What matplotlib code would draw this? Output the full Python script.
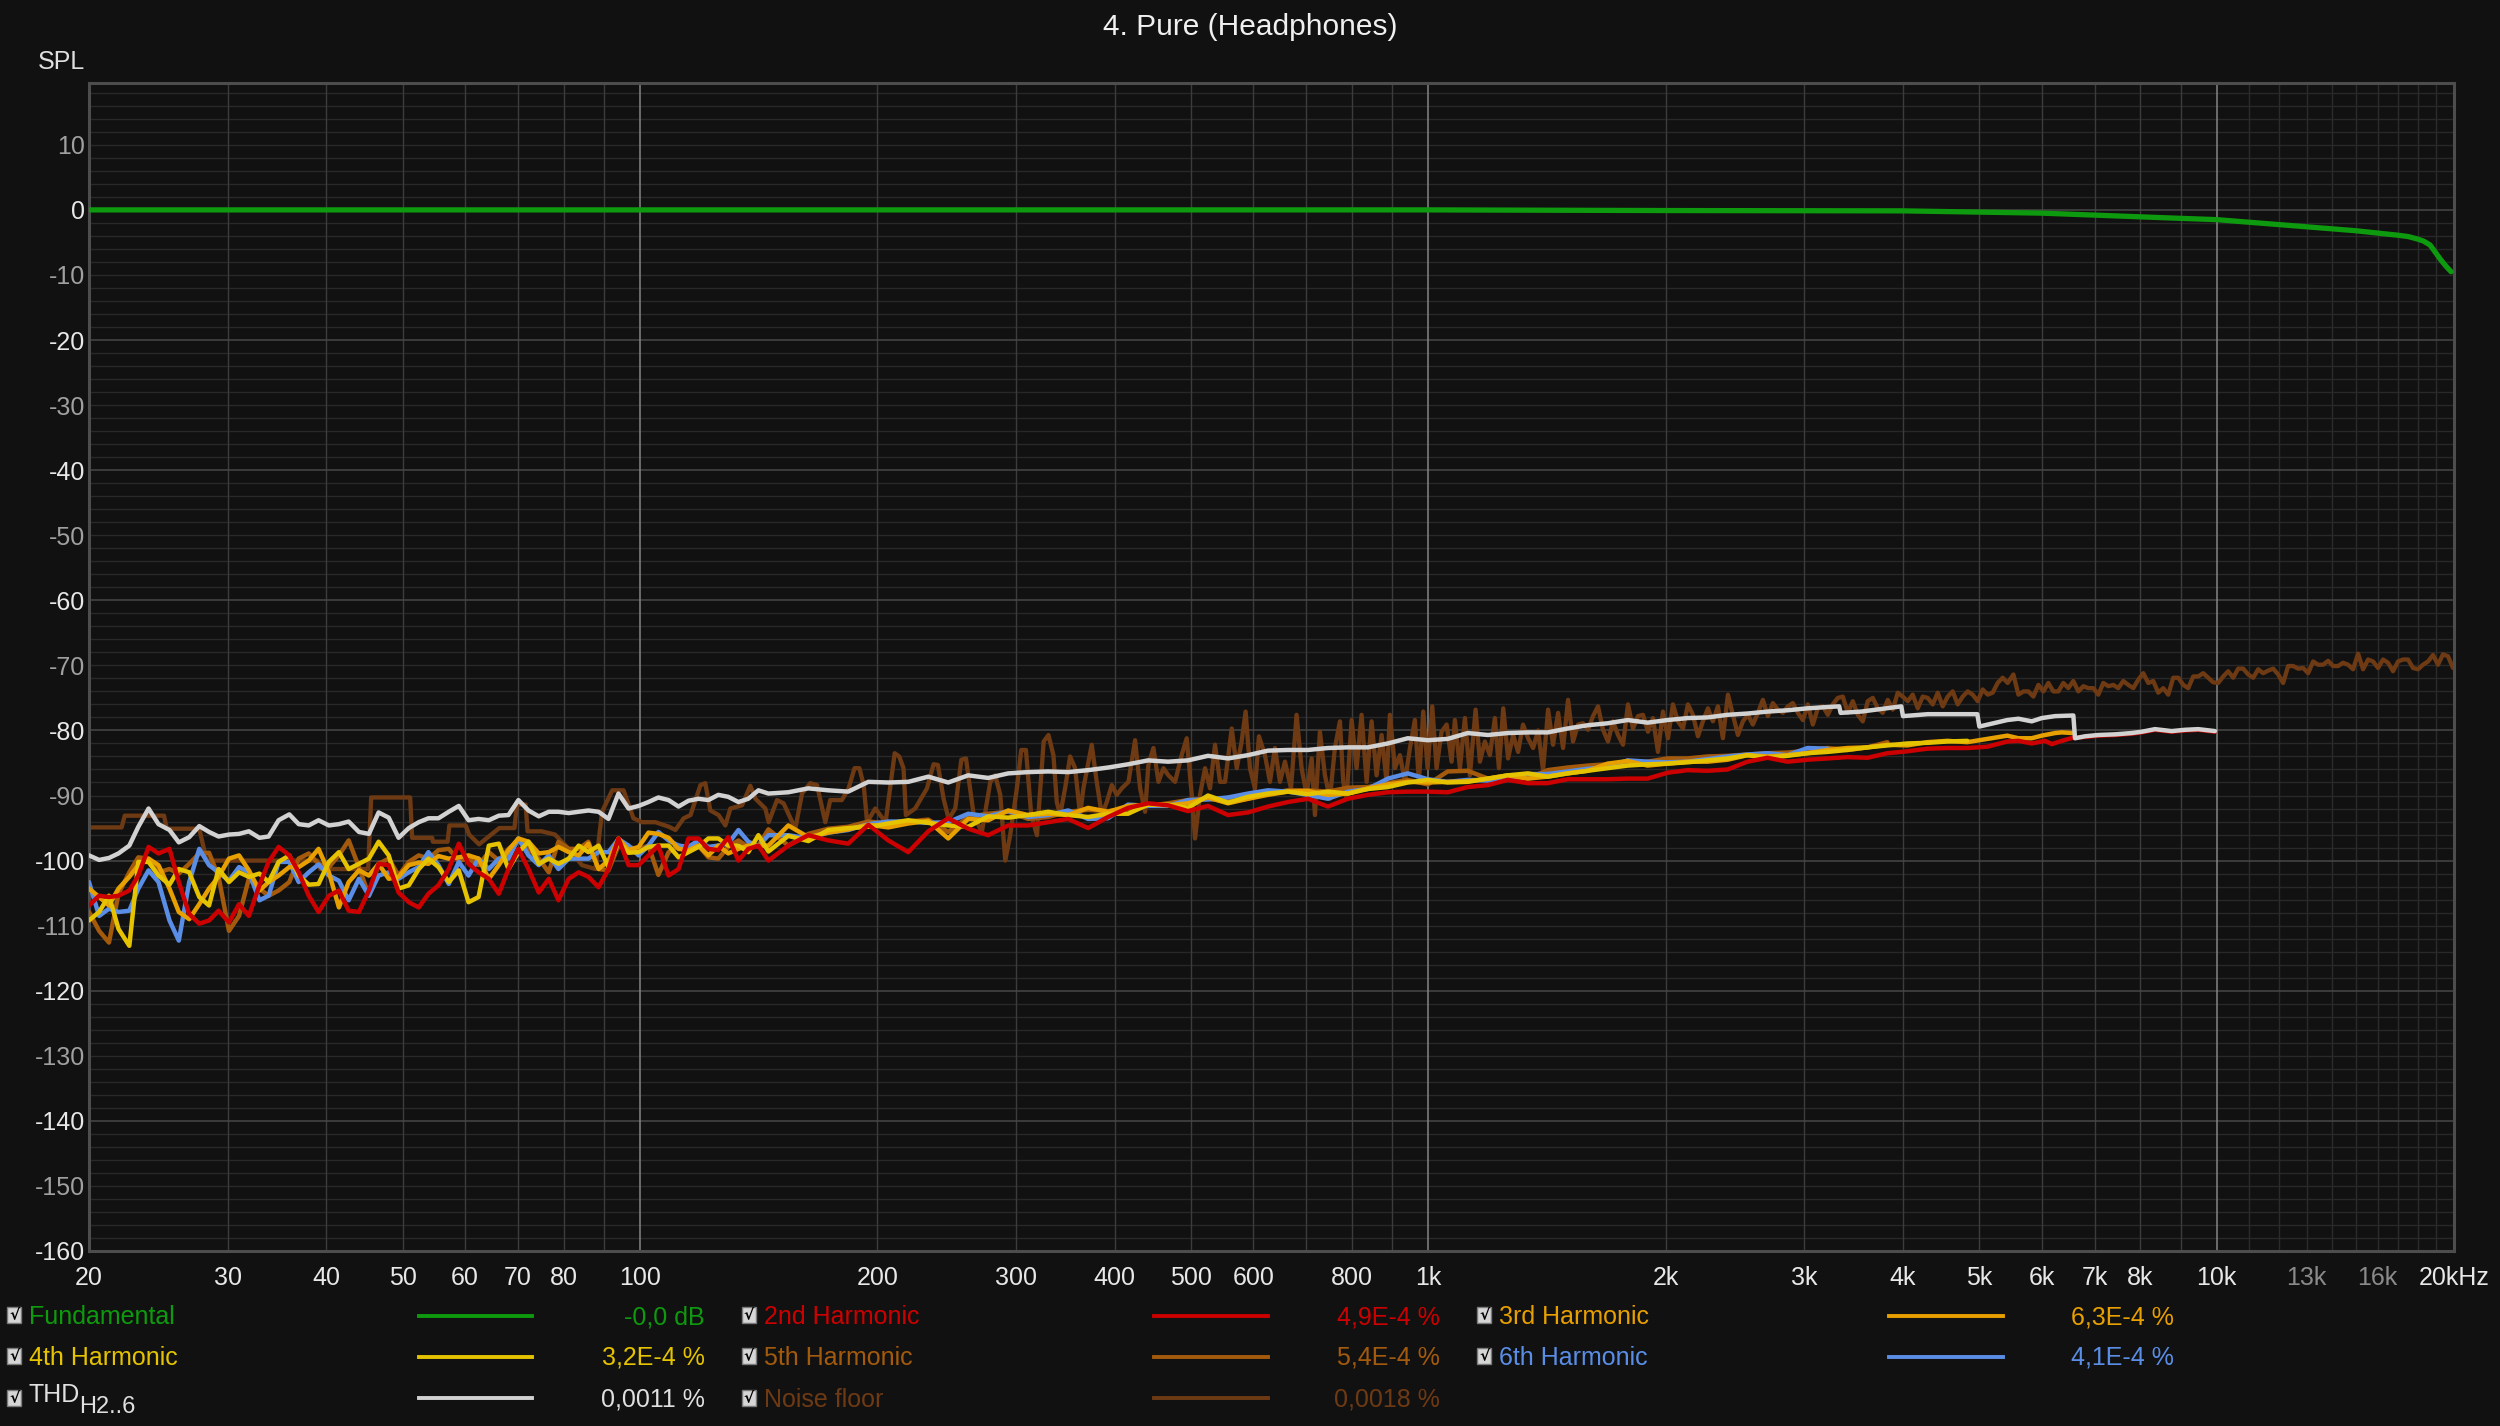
import matplotlib.pyplot as plt
from matplotlib.patches import Rectangle
from matplotlib.lines import Line2D
from matplotlib.ticker import NullLocator

plt.rcParams['font.family'] = ['Liberation Sans', 'DejaVu Sans']

W, H = 2500, 1426
BG = '#111111'

# colours of the traces
C_FUND = '#0e9a0e'
C_H2 = '#cc0000'
C_H3 = '#e8a000'
C_H4 = '#e5c300'
C_H5 = '#a35a0c'
C_H6 = '#5a8ee6'
C_THD = '#d2d2d2'
C_NOISE = '#6e3a14'

# ---- frequency grids (Hz) ----
f_a = [20.0, 20.6, 21.2, 21.8, 22.5, 23.1, 23.8, 24.5, 25.3, 26.0, 26.8, 27.6, 28.4, 29.2, 30.1,
       31.0, 31.9, 32.9, 33.8, 34.8, 35.9, 36.9, 38.0, 39.1, 40.3, 41.5, 42.7, 44.0, 45.3, 46.6,
       48.0, 49.4, 50.9, 52.4, 53.9, 55.5, 57.2, 58.9, 60.6, 62.4, 64.3, 66.2, 68.1, 70.1, 72.2,
       74.4, 76.6, 78.8, 81.2]
f_b = [83.6, 86.0, 88.6, 91.2, 93.9, 96.7, 99.6, 102.5, 105.5, 108.7, 111.9, 115.2, 118.6, 122.1,
       125.7, 129.4, 133.3, 137.2, 141.3, 145.5, 154.2, 163.5, 173.3, 183.7, 194.8, 206.5, 218.9,
       232.1, 246.0, 260.8, 276.5, 293.1, 310.7, 329.4]
f_c = [349.2, 370.2, 392.4, 416.0, 441.0, 467.5, 495.6, 525.4, 557.0, 590.5, 625.9, 663.6, 703.4,
       745.7, 790.6, 838.1, 888.4, 941.8, 998.4, 1058, 1122, 1190, 1261, 1337]
f_d = [1417, 1502, 1593, 1688, 1790, 1897, 2011, 2132, 2260, 2396, 2540, 2693, 2855, 3027, 3208,
       3401, 3606, 3822, 4052, 4296, 4554, 4827, 5117, 5425]

# ---- fundamental (dB) ----
fund_f = [20, 100, 1000, 2000, 4000, 6000, 9000, 10000, 13000, 15000, 17000, 17500, 18000, 18300,
          18650, 19250, 19550, 19830]
fund_db = [0.0, 0.0, 0.0, -0.1, -0.15, -0.5, -1.3, -1.5, -2.6, -3.2, -3.9, -4.1, -4.5, -4.8,
           -5.4, -7.7, -8.7, -9.5]

# ---- THD H2..6 ----
thd_a = [-99.2, -99.9, -99.6, -98.9, -97.7, -94.8, -92.0, -94.4, -95.3, -97.2, -96.4, -94.7, -95.6,
         -96.3, -96.0, -95.9, -95.5, -96.5, -96.3, -93.8, -92.9, -94.4, -94.6, -93.8, -94.6, -94.4,
         -94.0, -95.6, -95.9, -92.6, -93.4, -96.5, -95.0, -94.1, -93.5, -93.5, -92.5, -91.6, -93.8,
         -93.6, -93.8, -93.1, -93.0, -90.7, -92.3, -93.2, -92.5, -92.5, -92.7]
thd_b = [-92.5, -92.3, -92.5, -93.6, -89.7, -92.0, -91.6, -91.0, -90.3, -90.7, -91.7, -90.8, -90.5,
         -90.7, -89.9, -90.2, -91.0, -90.5, -89.2, -89.7, -89.5, -88.9, -89.2, -89.4, -87.9, -88.0,
         -87.9, -87.1, -88.0, -86.9, -87.3, -86.6, -86.4, -86.3]
thd_c = [-86.4, -86.1, -85.7, -85.2, -84.6, -84.8, -84.6, -83.9, -84.3, -83.8, -83.1, -83.0, -83.0,
         -82.7, -82.6, -82.6, -82.0, -81.2, -81.5, -81.3, -80.4, -80.7, -80.4, -80.3]
thd_d = [-80.3, -79.7, -79.2, -78.9, -78.4, -78.8, -78.4, -78.1, -78.0, -77.6, -77.4, -77.1, -76.9,
         -76.6, -76.4]
thd_tail_f = [3320, 3334, 3541, 3980, 4000, 4300, 4970, 5000, 5425, 5604, 5826, 5999, 6237, 6579,
              6611, 6807, 7077, 7432, 7801, 8032, 8351, 8767, 9116, 9477, 9950]
thd_tail_db = [-76.3, -77.3, -77.1, -76.3, -77.8, -77.5, -77.5, -79.4, -78.4, -78.2, -78.6, -78.1,
               -77.8, -77.7, -81.2, -80.9, -80.7, -80.6, -80.4, -80.2, -79.8, -80.1, -79.9, -79.8,
               -80.1]

# ---- 2nd harmonic ----
h2_a = [-106.9, -105.4, -105.6, -105.4, -104.6, -102.3, -97.9, -98.9, -98.2, -103.3, -108.2, -109.7,
        -109.2, -107.7, -109.5, -106.7, -108.5, -103.8, -100.2, -97.9, -99.2, -101.8, -105.4, -107.9,
        -105.4, -104.6, -107.7, -107.9, -104.6, -100.5, -100.7, -104.9, -106.4, -107.2, -105.1,
        -103.8, -101.3, -97.4, -100.5, -101.8, -102.8, -105.1, -101.3, -98.2, -101.3, -104.9, -102.8,
        -106.1, -102.8]
h2_b = [-101.8, -102.5, -104.1, -101.3, -96.6, -100.7, -100.7, -99.2, -97.7, -102.3, -101.3, -96.6,
        -96.6, -98.2, -98.4, -96.4, -100.0, -98.2, -97.7, -100.0, -97.7, -96.1, -96.9, -97.4, -94.5,
        -96.9, -98.7, -95.5, -93.5, -95.1, -96.1, -94.6, -94.6, -94.1]
h2_c = [-93.6, -95.0, -93.3, -91.9, -91.2, -91.5, -92.4, -91.6, -93.0, -92.6, -91.7, -91.0, -90.5,
        -91.7, -90.5, -89.9, -89.5, -89.4, -89.4, -89.5, -88.7, -88.4, -87.6, -88.1]
h2_d = [-88.1, -87.5, -87.5, -87.5, -87.4, -87.4, -86.5, -86.1, -86.2, -86.0, -84.8, -84.2, -84.8,
        -84.5, -84.3, -84.1, -84.2, -83.5, -83.2, -82.8, -82.7, -82.7, -82.5, -81.7]
h2_tail_f = [5604, 5826, 6058, 6177, 6360, 6579, 6807, 7077, 7432, 7801, 8032, 8351, 8767, 9116,
             9477, 9950]
h2_tail_db = [-81.6, -82.0, -81.6, -82.1, -81.6, -81.1, -81.0, -80.8, -80.7, -80.5, -80.3, -79.9,
              -80.2, -80.0, -79.9, -80.2]

# ---- 3rd harmonic ----
h3_a = [-104.3, -105.6, -106.9, -104.3, -102.5, -100.7, -99.7, -100.7, -104.3, -107.9, -109.0,
        -106.7, -104.3, -102.5, -99.7, -99.2, -101.5, -104.6, -103.3, -102.3, -101.0, -101.0, -100.0,
        -98.2, -101.8, -107.2, -103.3, -101.5, -102.3, -100.5, -102.8, -102.5, -100.7, -100.3,
        -100.5, -99.3, -99.7, -99.5, -99.2, -99.7, -102.8, -100.7, -98.4, -96.6, -97.1, -98.9, -98.7,
        -97.9, -98.7]
h3_b = [-99.2, -97.4, -101.3, -100.0, -96.6, -98.4, -97.9, -95.7, -95.9, -96.5, -98.2, -98.4, -97.7,
        -99.2, -97.7, -98.9, -98.2, -97.7, -97.7, -97.7, -94.6, -96.4, -95.7, -95.2, -94.5, -94.9,
        -94.3, -93.9, -96.6, -93.6, -93.8, -92.3, -93.0, -92.8]
h3_c = [-93.0, -91.9, -92.5, -91.6, -91.4, -91.5, -91.2, -90.3, -91.2, -90.5, -89.9, -89.4, -89.3,
        -89.9, -89.7, -88.9, -88.3, -87.9, -88.0, -87.9, -87.8, -87.4, -86.9, -87.4]
h3_d = [-87.1, -86.6, -86.2, -85.1, -84.7, -85.4, -85.1, -84.8, -84.8, -84.5, -83.8, -84.0, -83.8,
        -83.5, -83.0, -82.7, -82.6, -82.2, -82.3, -81.8, -81.6, -81.8, -81.3, -80.8]
h3_tail_f = [5604, 5826, 5999, 6237, 6360, 6579]
h3_tail_db = [-81.2, -81.2, -80.8, -80.4, -80.3, -80.4]

# ---- 4th harmonic ----
h4_a = [-109.2, -107.9, -105.4, -110.5, -113.1, -100.2, -100.2, -102.3, -103.7, -101.3, -101.8,
        -105.6, -106.9, -101.3, -103.3, -101.8, -102.5, -102.0, -103.3, -100.2, -99.2, -102.3, -103.7,
        -103.6, -100.2, -98.7, -101.3, -100.5, -99.7, -97.1, -99.2, -104.3, -103.8, -101.3, -99.7,
        -101.0, -103.3, -101.5, -106.4, -105.6, -97.7, -97.4, -101.3, -98.7, -97.1, -100.5, -99.7,
        -100.5, -99.7]
h4_b = [-97.7, -98.7, -97.7, -101.0, -97.1, -98.8, -98.7, -97.9, -97.7, -97.7, -99.5, -98.7, -97.9,
        -96.6, -96.6, -97.7, -97.7, -98.7, -96.1, -98.6, -96.2, -97.0, -95.3, -95.0, -94.8, -94.3,
        -93.8, -94.2, -94.6, -94.8, -93.2, -93.4, -93.0, -92.5]
h4_c = [-93.0, -93.3, -92.8, -92.8, -91.4, -91.4, -91.9, -90.0, -91.1, -90.2, -89.7, -89.4, -89.8,
        -89.4, -89.7, -89.0, -88.7, -88.0, -87.6, -88.0, -87.9, -87.4, -86.9, -86.6]
h4_d = [-87.1, -86.6, -86.2, -85.8, -85.4, -85.2, -85.1, -84.9, -84.6, -84.3, -83.8, -84.2, -83.9,
        -83.5, -83.3, -83.0, -82.6, -82.3, -82.0, -81.9, -81.7, -81.6]

# ---- 5th harmonic ----
h5_a = [-107.9, -110.8, -112.6, -105.1, -101.8, -99.5, -99.7, -101.8, -101.3, -102.0, -100.5, -98.9,
        -98.8, -102.5, -110.8, -108.5, -102.8, -104.3, -105.4, -104.6, -103.3, -99.7, -98.9, -100.5,
        -101.0, -99.2, -96.9, -101.0, -105.4, -100.5, -99.7, -102.3, -100.2, -99.2, -99.7, -98.4,
        -98.2, -100.0, -99.7, -100.7, -98.7, -100.0, -98.2, -96.9, -98.2, -99.7, -101.8, -97.1, -98.2]
h5_b = [-98.2, -97.1, -101.3, -101.5, -97.7, -97.9, -98.3, -97.7, -102.2, -98.7, -97.7, -98.4, -97.7,
        -99.5, -99.7, -97.9, -96.9, -97.9, -97.7, -95.2, -97.7, -95.9, -95.1, -94.8, -94.0, -94.3,
        -94.0, -93.7, -95.6, -93.3, -92.8, -92.5, -93.6, -93.3]
h5_c = [-92.5, -92.2, -92.4, -92.1, -91.6, -91.2, -90.7, -90.5, -90.9, -90.5, -89.7, -89.2, -89.2,
        -89.4, -88.8, -88.7, -88.1, -87.6, -88.3, -86.3, -86.2, -87.4, -87.1, -87.4]
h5_d = [-86.1, -85.7, -85.4, -85.2, -85.1, -84.8, -84.3, -84.3, -84.0, -83.9, -83.7, -83.5, -83.4,
        -83.1, -82.7, -83.0, -82.6, -81.8]

# ---- 6th harmonic ----
h6_a = [-103.3, -108.5, -107.4, -107.9, -107.7, -104.3, -101.5, -103.3, -109.2, -112.3, -103.3, -98.2,
        -100.7, -101.8, -103.1, -101.0, -101.8, -106.1, -105.4, -100.2, -100.2, -103.3, -101.8,
        -100.6, -102.3, -103.1, -106.1, -102.8, -105.4, -102.3, -101.8, -102.8, -101.8, -101.0, -98.7,
        -100.7, -103.6, -100.2, -102.3, -99.7, -101.3, -99.7, -99.7, -96.6, -99.2, -100.7, -99.2,
        -101.3, -99.7]
h6_b = [-99.7, -99.7, -98.7, -98.7, -96.7, -97.7, -99.2, -97.7, -95.6, -96.9, -97.7, -97.9, -96.9,
        -97.9, -97.7, -97.4, -95.3, -97.1, -97.8, -96.1, -96.1, -96.6, -95.7, -95.3, -94.4, -94.0,
        -94.0, -94.2, -94.1, -92.8, -93.2, -92.4, -93.3, -93.0]
h6_c = [-92.3, -93.6, -93.5, -91.4, -91.6, -91.6, -90.7, -90.6, -90.3, -89.7, -89.2, -89.4, -89.9,
        -90.5, -89.4, -89.0, -87.4, -86.6, -87.5, -87.9, -87.6, -87.7, -87.4, -86.7]
h6_d = [-86.7, -86.3, -85.9, -85.6, -84.6, -84.8, -84.9, -84.8, -84.4, -84.0, -83.7, -83.5, -83.8,
        -82.7, -82.8]

# ---- noise floor ----
nf_f1 = [20.0, 22.0, 22.2, 24.9, 25.1, 27.6, 28.2, 39.0, 39.3, 45.2, 45.6, 51.1, 51.4, 54.5, 54.6,
         57.0, 57.3, 60.1, 60.7, 62.5, 66.3, 69.3, 69.8, 71.6, 72.0, 75.0, 78.0,
         81.2, 84.4, 87.8, 89.5, 92.2, 95.3, 98.1, 100.6, 104.6, 108.8, 110.9, 113.6, 115.9, 119.3,
         121.0, 122.8, 125.8, 128.3, 130.2, 134.7, 138.0, 140.1, 144.2, 145.6, 149.2, 152.1, 157.4,
         160.5, 164.4, 167.7, 171.8, 174.3, 180.3, 183.9, 187.1, 189.8, 192.2, 194.1, 198.8, 204.9,
         210.4, 213.2, 215.9, 217.4, 223.4, 231.2, 235.7, 238.7, 242.7, 246.3, 251.1, 255.6, 259.1,
         265.0, 271.4, 278.2, 282.2, 286.4, 290.6, 294.8, 300.6, 304.5, 308.7, 313.5, 318.8, 325.1]
nf_db1 = [-94.9, -94.9, -93.1, -93.1, -95.1, -95.1, -100.0, -100.0, -101.3, -101.3, -90.3, -90.3,
          -96.5, -96.5, -97.1, -97.1, -94.6, -94.6, -96.0, -97.5, -95.0, -95.0, -91.4, -91.4, -95.5,
          -95.5, -96.0,
          -98.2, -100.7, -101.3, -92.5, -89.2, -89.2, -93.5, -94.1, -94.1, -94.8, -95.3, -93.5, -93.0,
          -88.4, -88.1, -92.3, -93.0, -94.6, -92.0, -91.5, -88.5, -90.5, -92.0, -94.1, -90.7, -91.2,
          -95.1, -89.7, -88.1, -88.4, -94.1, -90.7, -90.7, -88.9, -85.8, -85.8, -88.4, -94.1, -92.0,
          -94.1, -83.5, -84.0, -85.8, -93.0, -92.0, -88.9, -85.2, -85.3, -90.5, -93.6, -92.0, -84.5,
          -84.3, -93.0, -95.6, -87.9, -86.9, -89.9, -100.0, -96.1, -88.9, -83.0, -83.0, -93.0, -96.1,
          -81.7]
nf_f2 = [329.7, 334.5, 337.8, 341.1, 346.1, 351.2, 356.4, 361.6, 365.1, 374.1, 379.6, 385.3, 390.9,
         396.7, 402.5, 408.4, 416.5, 424.6, 430.9, 437.2, 441.4, 448.0, 454.6, 461.3, 468.0, 477.2,
         486.5, 493.7, 501.0, 505.9, 513.3, 520.9, 528.5, 536.3, 544.2, 552.2, 563.1, 571.4, 579.6,
         586.4, 593.9, 602.6, 609.7, 620.5, 629.6, 638.9, 648.3, 657.8, 669.5, 680.5, 690.6, 700.7,
         711.2, 718.0, 728.5, 739.3, 750.1, 761.1, 772.4, 779.9, 787.5, 799.2, 810.9, 822.8, 835.0,
         847.2, 859.6, 872.4, 885.1, 893.8, 907.0, 920.3, 933.9, 947.6, 961.4, 972.8, 985.2, 997.8,
         1011.4, 1024.3, 1039.3, 1054.8, 1070.2, 1080.6, 1096.7, 1112.7, 1129.0, 1147.9, 1162.5,
         1179.5, 1197.0, 1214.5, 1228.9, 1244.6, 1262.2, 1281.0, 1299.7, 1318.6, 1338.2]
nf_db2 = [-80.7, -83.8, -91.0, -93.0, -88.9, -84.0, -85.8, -93.0, -88.9, -82.2, -87.9, -93.0, -91.0,
          -88.4, -89.9, -88.9, -87.9, -81.5, -88.9, -92.5, -85.3, -82.7, -87.9, -85.8, -86.9, -87.9,
          -83.8, -81.2, -89.9, -96.6, -89.9, -85.8, -88.9, -82.2, -87.9, -87.9, -79.7, -85.8, -81.7,
          -77.1, -85.8, -88.9, -80.9, -83.8, -87.9, -82.7, -87.9, -84.8, -88.9, -77.6, -85.8, -89.9,
          -84.3, -93.0, -80.2, -86.9, -90.5, -82.7, -78.6, -87.9, -90.5, -78.4, -85.8, -77.6, -87.9,
          -78.6, -86.9, -80.7, -87.9, -77.6, -85.8, -83.8, -87.9, -82.7, -78.4, -87.9, -77.1, -85.8,
          -76.3, -85.8, -80.2, -79.1, -84.8, -78.4, -85.8, -78.1, -86.9, -76.8, -84.8, -81.7, -83.8,
          -78.1, -85.8, -76.6, -84.3, -80.7, -83.3, -79.1, -81.2]
nf_f3 = [1357.9, 1377.8, 1398.0, 1418.6, 1439.5, 1460.7, 1482.1, 1503.9, 1525.9, 1548.3, 1571.0,
         1594.2, 1617.6, 1641.4, 1665.5, 1690.0, 1714.9, 1740.1, 1765.6, 1791.6, 1817.9, 1844.7,
         1871.7, 1899.3, 1927.1, 1955.5, 1984.3, 2013.5, 2043.0, 2073.0, 2103.5, 2134.4, 2165.8,
         2197.8, 2230.0, 2262.8, 2296.0, 2329.8, 2363.9, 2398.8, 2433.9, 2469.8, 2506.1, 2543.0,
         2580.3, 2618.2, 2656.7, 2695.8, 2735.4, 2775.6, 2816.4, 2857.7, 2899.8, 2942.5, 2985.7,
         3029.5, 3074.0, 3119.2, 3165.0, 3211.7, 3258.9, 3306.7, 3355.3, 3404.7, 3454.7, 3505.4,
         3556.9, 3609.3, 3662.3, 3716.1, 3770.7, 3826.2, 3882.4, 3939.4, 3997.4, 4056.1, 4115.6,
         4176.3, 4237.6, 4300.0, 4363.1, 4427.2, 4492.2, 4558.3, 4625.2, 4693.3, 4762.3, 4832.2,
         4903.3, 4975.4, 5048.5, 5122.6, 5198.0, 5274.4, 5351.9, 5430.6]
nf_db3 = [-82.7, -80.0, -86.1, -76.8, -82.2, -77.3, -82.7, -75.3, -81.7, -79.1,
          -78.9, -79.9, -77.8, -76.3, -79.9, -81.7, -78.6, -80.7, -82.2, -76.0,
          -79.7, -77.8, -77.6, -80.2, -78.1, -83.3, -77.1, -81.2, -76.0, -78.6,
          -79.7, -76.0, -77.6, -80.9, -78.6, -76.6, -78.6, -76.3, -81.2, -74.5,
          -77.6, -80.7, -78.6, -77.6, -79.1, -77.3, -75.3, -77.8, -75.8, -76.8,
          -77.3, -76.3, -75.8, -77.3, -78.4, -76.0, -79.1, -76.6, -76.3, -77.6,
          -76.0, -75.0, -74.8, -77.3, -75.5, -77.6, -78.6, -75.5, -75.0, -76.6,
          -77.3, -75.3, -76.8, -74.2, -74.8, -75.5, -74.5, -76.6, -74.8, -75.0,
          -76.0, -74.2, -76.3, -74.8, -74.0, -76.0, -74.8, -74.0, -74.5, -75.5,
          -73.7, -74.5, -74.2, -72.7, -71.9, -72.7]
nf_f4 = [5522.3, 5603.7, 5686.2, 5769.7, 5854.2, 5940.4, 6027.6, 6116.0, 6205.8, 6297.2, 6389.7,
         6483.8, 6579.0, 6675.7, 6774.0, 6873.4, 6974.3, 7076.9, 7181.0, 7286.8, 7393.5, 7502.4,
         7612.4, 7724.4, 7838.1, 7953.3, 8070.1, 8188.5, 8309.1, 8431.2, 8554.9, 8681.2, 8808.6,
         8938.1, 9069.2, 9202.9, 9337.7, 9475.1, 9614.2, 9755.8, 9899.1, 10044.9, 10192.5, 10342.1,
         10494.3, 10648.6, 10805.1, 10963.7, 11124.9, 11288.3, 11454.3, 11623.1, 11793.6, 11966.9,
         12142.4, 12321.0, 12501.9, 12686.4, 12873.0, 13061.7, 13253.6, 13448.6, 13646.3, 13846.7,
         14050.2, 14256.9, 14466.2, 14678.7, 14894.4, 15113.7, 15335.9, 15560.6, 15789.8, 16021.9,
         16257.1, 16496.5, 16738.6, 16985.0, 17234.5, 17487.7, 17744.6, 18005.7, 18270.0, 18539.1,
         18811.3, 19087.7, 19368.4, 19653.3, 19942.0]
nf_db4 = [-71.4, -74.5, -74.0, -74.0, -74.8, -73.0, -74.0, -72.7, -74.0, -74.0,
          -72.7, -73.5, -72.4, -74.0, -73.2, -73.5, -73.5, -74.5, -72.7, -73.2,
          -73.0, -73.5, -72.4, -73.0, -73.5, -72.2, -71.2, -72.7, -72.4, -74.2,
          -73.5, -74.5, -71.9, -71.9, -73.0, -73.5, -71.7, -71.7, -71.2, -71.9,
          -72.6, -72.7, -71.7, -70.9, -71.9, -70.5, -70.5, -71.4, -71.9, -70.6,
          -71.2, -70.8, -70.5, -71.4, -72.7, -70.1, -70.1, -70.5, -70.4, -71.2,
          -69.4, -69.9, -69.9, -69.3, -70.1, -70.1, -69.6, -69.9, -70.6, -68.2,
          -70.6, -69.1, -69.4, -70.4, -69.1, -69.6, -70.9, -69.4, -69.1, -69.1,
          -70.4, -70.6, -69.9, -69.4, -68.4, -69.9, -68.3, -68.6, -70.4]

# ---- axis labelling ----
x_ticks = [20, 30, 40, 50, 60, 70, 80, 100, 200, 300, 400, 500, 600, 800, 1000, 2000, 3000, 4000,
           5000, 6000, 7000, 8000, 10000, 13000, 16000, 20000]
x_labels = ['20', '30', '40', '50', '60', '70', '80', '100', '200', '300', '400', '500', '600', '800',
            '1k', '2k', '3k', '4k', '5k', '6k', '7k', '8k', '10k', '13k', '16k', '20kHz']
y_ticks = [10, 0, -10, -20, -30, -40, -50, -60, -70, -80, -90, -100, -110, -120, -130, -140, -150,
           -160]

# ---- legend ----
leg_labels = ['Fundamental', '2nd Harmonic', '3rd Harmonic', '4th Harmonic', '5th Harmonic',
              '6th Harmonic', 'THD', 'Noise floor']
leg_colors = [C_FUND, C_H2, C_H3, C_H4, C_H5, C_H6, C_THD, C_NOISE]
leg_values = ['-0,0 dB', '4,9E-4 %', '6,3E-4 %', '3,2E-4 %', '5,4E-4 %', '4,1E-4 %', '0,0011 %',
              '0,0018 %']


def fx(x):
    return x / W


def fy(y):
    return 1 - y / H


fig = plt.figure(figsize=(W / 100, H / 100), dpi=100, facecolor=BG)
ax = fig.add_axes([fx(89), fy(1251), (2454 - 89) / W, (1251 - 83) / H], facecolor=BG)
ax.set_xscale('log')
ax.set_xlim(20, 20000)
ax.set_ylim(-160, 19.5)

# grid
for y in range(-158, 20, 2):
    if y % 20 == 0:
        ax.axhline(y, color='#474747', lw=1.1, zorder=1)
    else:
        ax.axhline(y, color='#282828', lw=1.0, zorder=0.5)
for dec in (10, 100, 1000):
    for m in range(2, 10):
        f = m * dec
        if f > 20:
            ax.axvline(f, color='#3c3c3c', lw=1.0, zorder=0.8)
for f in (100, 1000, 10000):
    ax.axvline(f, color='#858585', lw=1.1, zorder=1)
for f in range(11000, 20000, 1000):
    ax.axvline(f, color='#2b2b2b', lw=1.0, zorder=0.8)

for s in ax.spines.values():
    s.set_color('#4d4d4d')
    s.set_linewidth(2.2)

ax.set_xticks(x_ticks)
ax.set_xticklabels(x_labels)
ax.xaxis.set_minor_locator(NullLocator())
ax.set_yticks(y_ticks)
ax.set_yticklabels([str(v) for v in y_ticks])
ax.tick_params(axis='both', length=0, labelsize=18)
ax.tick_params(axis='x', pad=11)
ax.tick_params(axis='y', pad=3)
for lab, v in zip(ax.get_xticklabels(), x_ticks):
    lab.set_color('#8a8a8a' if v in (13000, 16000) else '#e8e8e8')
for lab, v in zip(ax.get_yticklabels(), y_ticks):
    lab.set_color('#e8e8e8' if v % 20 == 0 else '#a0a0a0')


def curve(freqs, levels, color, lw, z):
    ax.plot(freqs, levels, color=color, lw=lw, zorder=z,
            solid_joinstyle='round', solid_capstyle='round')


curve(nf_f1 + nf_f2 + nf_f3 + nf_f4, nf_db1 + nf_db2 + nf_db3 + nf_db4, C_NOISE, 3.1, 2)
curve(f_a + f_b + f_c + f_d[:len(h5_d)], h5_a + h5_b + h5_c + h5_d, C_H5, 3.2, 3)
curve(f_a + f_b + f_c + f_d[:len(h6_d)], h6_a + h6_b + h6_c + h6_d, C_H6, 3.2, 4)
curve(f_a + f_b + f_c + f_d + h3_tail_f, h3_a + h3_b + h3_c + h3_d + h3_tail_db, C_H3, 3.2, 5)
curve(f_a + f_b + f_c + f_d[:len(h4_d)], h4_a + h4_b + h4_c + h4_d, C_H4, 3.2, 6)
curve(f_a + f_b + f_c + f_d + h2_tail_f, h2_a + h2_b + h2_c + h2_d + h2_tail_db, C_H2, 3.2, 7)
curve(f_a + f_b + f_c + f_d[:len(thd_d)] + thd_tail_f,
      thd_a + thd_b + thd_c + thd_d + thd_tail_db, C_THD, 3.2, 8)
curve(fund_f, fund_db, C_FUND, 3.8, 9)

# titles
fig.text(0.5, fy(27), '4. Pure (Headphones)', color='#f0f0f0', fontsize=21.5,
         ha='center', va='center')
fig.text(fx(38), fy(62), 'SPL', color='#e0e0e0', fontsize=18, ha='left', va='center')

# legend block
col_box = [7, 742, 1477]
col_text = [29, 764, 1499]
col_line = [(419, 532), (1154, 1268), (1889, 2003)]
col_val = [705, 1440, 2174]
row_base = [1324, 1365, 1407]
row_line = [1316, 1357, 1398]

for i, (name, col, val) in enumerate(zip(leg_labels, leg_colors, leg_values)):
    r, c = divmod(i, 3)
    bx, by = col_box[c], row_base[r] - 17
    fig.add_artist(Rectangle((fx(bx), fy(by + 16)), 14 / W, 16 / H, transform=fig.transFigure,
                             facecolor='#d6d6d6', edgecolor='#7a7a7a', lw=1.0))
    fig.text(fx(bx + 7), fy(by + 8), '√', color='black', fontsize=11, fontweight='bold',
             ha='center', va='center', family=['DejaVu Sans'])
    x0, x1 = col_line[c]
    fig.add_artist(Line2D([fx(x0), fx(x1)], [fy(row_line[r])] * 2, color=col, lw=2.8,
                          transform=fig.transFigure))
    if name == 'THD':
        fig.text(fx(col_text[c]), fy(row_base[r] - 5), 'THD', color='#e0e0e0', fontsize=18,
                 ha='left', va='baseline')
        fig.text(fx(col_text[c] + 50), fy(row_base[r] + 6), 'H2..6', color='#e0e0e0',
                 fontsize=17, ha='left', va='baseline')
        vcol = '#e0e0e0'
    else:
        fig.text(fx(col_text[c]), fy(row_base[r]), name, color=col, fontsize=18,
                 ha='left', va='baseline')
        vcol = col
    fig.text(fx(col_val[c]), fy(row_base[r]), val, color=vcol, fontsize=18,
             ha='right', va='baseline')

fig.savefig('out.png', dpi=100, facecolor=BG)
